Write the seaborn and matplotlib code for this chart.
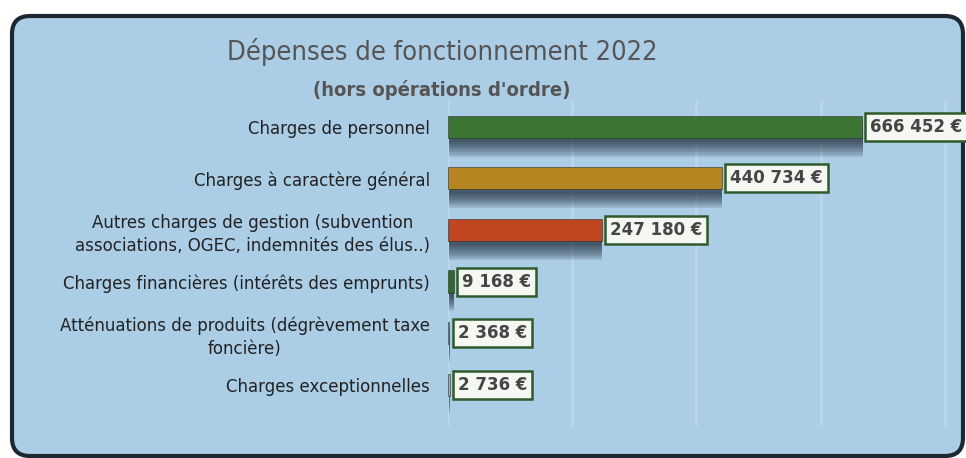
import matplotlib
matplotlib.use("Agg")
import matplotlib.pyplot as plt
import matplotlib.patheffects as pe
from matplotlib.patches import FancyBboxPatch
from matplotlib.transforms import IdentityTransform
from matplotlib import font_manager
import seaborn as sns

# data
categories = [
    "Charges de personnel",
    "Charges à caractère général",
    "Autres charges de gestion (subvention\nassociations, OGEC, indemnités des élus..)",
    "Charges financières (intérêts des emprunts)",
    "Atténuations de produits (dégrèvement taxe\nfoncière)",
    "Charges exceptionnelles",
]
values = [666452, 440734, 247180, 9168, 2368, 2736]
bar_colors = ["#3a7532", "#b5861f", "#bf461f", "#2f6a2b", "#8fb0c8", "#8fb0c8"]
title = "Dépenses de fonctionnement 2022"
subtitle = "(hors opérations d'ordre)"

sns.set_theme(style="white")
plt.rcParams["font.family"] = ["DejaVu Sans"]


def condensed_face(bold):
    # upright condensed/narrow face, if one is installed
    for f in font_manager.fontManager.ttflist:
        if f.style != "normal":
            continue
        if not (f.stretch in ("condensed", "semi-condensed")
                or "Narrow" in f.name or "Condensed" in f.name):
            continue
        w = f.weight if isinstance(f.weight, int) else (700 if f.weight == "bold" else 400)
        if (bold and w >= 600) or (not bold and 400 <= w < 600):
            return f.fname
    return None


reg_file = condensed_face(False)
bold_file = condensed_face(True)
if reg_file:
    title_fp = font_manager.FontProperties(fname=reg_file, size=19.5)
else:
    title_fp = font_manager.FontProperties(family="Liberation Sans", size=19.5)
if bold_file:
    sub_fp = font_manager.FontProperties(fname=bold_file, size=14.5)
else:
    sub_fp = font_manager.FontProperties(family="Liberation Sans", weight="bold", size=14.5)

W, H = 966, 458
fig = plt.figure(figsize=(W / 100, H / 100), dpi=100, facecolor="white")

# rounded light-blue frame
frame = FancyBboxPatch((12, 2), 951, 440, boxstyle="round,pad=0,rounding_size=18",
                       transform=IdentityTransform(), facecolor="#abcde6",
                       edgecolor="#1b2733", linewidth=3, zorder=-1)
fig.patches.append(frame)

ax = fig.add_axes([448 / W, (H - 426) / H, (W - 448) / W, 325 / H])
ax.set_facecolor("none")

sns.barplot(x=values, y=categories, hue=categories, palette=bar_colors,
            legend=False, orient="h", width=0.43, ax=ax, saturation=1)

ax.set_xlim(0, 834000)
ax.set_ylim(5.8, -0.5)
ax.set_xticks([0, 200000, 400000, 600000, 800000])
ax.set_xticklabels([])
ax.xaxis.grid(True, color="#bad6ea", linewidth=2)
ax.set_axisbelow(True)
for s in ax.spines.values():
    s.set_visible(False)
ax.tick_params(axis="both", length=0)
ax.tick_params(axis="y", pad=13, labelsize=12, labelcolor="#222222")
for t in ax.get_yticklabels():
    t.set_multialignment("center")
    t.set_linespacing(1.35)
ax.set_xlabel("")
ax.set_ylabel("")

# soft drop shadow under the bars
shadow = [pe.SimplePatchShadow(offset=(0.5, -dy), shadow_rgbFace="#1f2c3a", alpha=0.14)
          for dy in (3, 4.5, 6, 7.5, 9, 10.5, 12, 13.5)]
for c in ax.containers:
    for bar in c:
        bar.set_path_effects(shadow + [pe.Normal()])
        bar.set_edgecolor("#2a2a2a")
        bar.set_linewidth(0.4)

for c, v in zip(ax.containers, values):
    ax.bar_label(c, labels=[f"{v:,}".replace(",", " ") + " €"], padding=6,
                 fontsize=12, fontweight="bold", color="#454545", clip_on=False,
                 bbox=dict(boxstyle="square,pad=0.3", facecolor="#f5f7f2",
                           edgecolor="#2f5b2b", linewidth=1.8))

fig.text(442 / W, (H - 52) / H, title, ha="center", va="center",
         color="#555555", fontproperties=title_fp)
fig.text(442 / W, (H - 90) / H, subtitle, ha="center", va="center",
         color="#555555", fontproperties=sub_fp)

fig.savefig("out.png", dpi=100, facecolor="white")
